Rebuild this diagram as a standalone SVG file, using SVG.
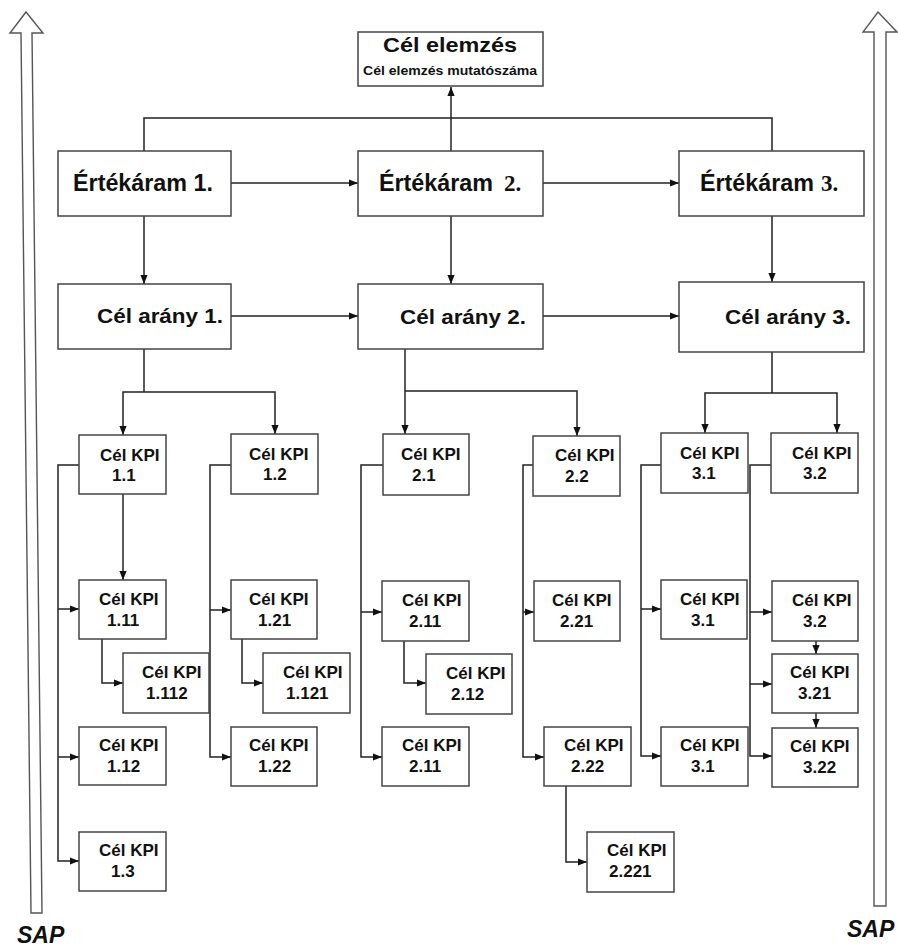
<svg xmlns="http://www.w3.org/2000/svg" width="898" height="949" viewBox="0 0 898 949">
<style>
.box{fill:#fff;stroke:#444;stroke-width:1.5}
.ln{fill:none;stroke:#222;stroke-width:1.5}
.ar{fill:none;stroke:#222;stroke-width:1.5;marker-end:url(#ah)}
.big{fill:#fff;stroke:#555;stroke-width:1.4}
.h1{font-family:"Liberation Sans",Arial,sans-serif;font-weight:bold;font-size:23px;fill:#111}
.h2{font-family:"Liberation Sans",Arial,sans-serif;font-weight:bold;font-size:21px;fill:#111}
.k{font-family:"Liberation Sans",Arial,sans-serif;font-weight:bold;font-size:17px;fill:#111}
.sub{font-family:"Liberation Sans",Arial,sans-serif;font-weight:bold;font-size:13px;fill:#111}
.num{font-family:"Liberation Serif","Times New Roman",serif;font-weight:bold;font-size:23px}
.sap{font-family:"Liberation Sans",Arial,sans-serif;font-weight:bold;font-style:italic;font-size:23px;fill:#111}
</style>
<defs>
<marker id="ah" viewBox="0 0 10 10" refX="10" refY="5" markerWidth="9" markerHeight="9" markerUnits="userSpaceOnUse" orient="auto">
<path d="M0,1 L10,5 L0,9 z" fill="#111"/>
</marker>
</defs>

<g id="sap-left">
<polygon class="big" points="26,12 43,33 32,33 42,913 31,913 21,33 10,33"/>
<text class="sap" x="17" y="943">SAP</text>
</g>
<g id="sap-right">
<polygon class="big" points="878,12 897,32 886,32 886,906 874,906 874,32 863,32"/>
<text class="sap" x="847" y="937">SAP</text>
</g>

<g id="connectors">
<path class="ln" d="M144,151 V118 H772 V151"/>
<path class="ar" d="M451,151 V87"/>
<path class="ar" d="M231,183 H358"/>
<path class="ar" d="M543,183 H679"/>
<path class="ar" d="M144,216 V284"/>
<path class="ar" d="M451,216 V284"/>
<path class="ar" d="M772,216 V282"/>
<path class="ar" d="M231,316 H358"/>
<path class="ar" d="M543,316 H679"/>
<path class="ln" d="M144,349 V392"/>
<path class="ar" d="M144,392 H123 V435"/>
<path class="ar" d="M144,392 H275 V434"/>
<path class="ar" d="M405,349 V434"/>
<path class="ar" d="M405,391 H577 V436"/>
<path class="ln" d="M772,352 V393"/>
<path class="ar" d="M772,393 H705 V433"/>
<path class="ar" d="M772,393 H837 V433"/>

<path class="ar" d="M79,465 H58 V861 H79"/>
<path class="ar" d="M58,609 H79"/>
<path class="ar" d="M58,757 H79"/>
<path class="ar" d="M123,494 V580"/>
<path class="ar" d="M102,639 V683 H123"/>
<path class="ar" d="M231,465 H210 V757 H231"/>
<path class="ar" d="M210,610 H231"/>
<path class="ar" d="M242,639 V683 H263"/>

<path class="ar" d="M383,465 H361 V757 H382"/>
<path class="ar" d="M361,612 H382"/>
<path class="ar" d="M404,641 V683 H426"/>
<path class="ar" d="M533,465 H523 V757 H544"/>
<path class="ar" d="M523,612 H534"/>
<path class="ar" d="M566,786 V862 H587"/>

<path class="ar" d="M661,465 H641 V756 H661"/>
<path class="ar" d="M641,609 H661"/>
<path class="ar" d="M771,465 H750 V756 H772"/>
<path class="ar" d="M750,612 H772"/>
<path class="ar" d="M750,684 H772"/>
<path class="ar" d="M816,641 V654"/>
<path class="ar" d="M816,713 V728"/>
</g>

<g id="cel-elemzes">
<rect class="box" x="358" y="32" width="185" height="54"/>
<text class="h2" x="383" y="52" textLength="134" lengthAdjust="spacingAndGlyphs">Cél elemzés</text>
<text class="sub" x="363" y="75" textLength="174" lengthAdjust="spacingAndGlyphs">Cél elemzés mutatószáma</text>
</g>

<g id="ertekaram-1">
<rect class="box" x="58" y="151" width="173" height="65"/>
<text class="h1" x="73" y="191" textLength="140" lengthAdjust="spacingAndGlyphs">Értékáram 1.</text>
</g>
<g id="ertekaram-2">
<rect class="box" x="358" y="151" width="185" height="65"/>
<text class="h1" x="379" y="191" textLength="114" lengthAdjust="spacingAndGlyphs">Értékáram</text>
<text class="h1 num" x="504" y="191">2.</text>
</g>
<g id="ertekaram-3">
<rect class="box" x="679" y="151" width="185" height="65"/>
<text class="h1" x="700" y="191" textLength="114" lengthAdjust="spacingAndGlyphs">Értékáram</text>
<text class="h1 num" x="821" y="191">3.</text>
</g>

<g id="cel-arany-1">
<rect class="box" x="58" y="284" width="173" height="65"/>
<text class="h2" x="97" y="323" textLength="126" lengthAdjust="spacingAndGlyphs">Cél arány 1.</text>
</g>
<g id="cel-arany-2">
<rect class="box" x="358" y="284" width="185" height="65"/>
<text class="h2" x="400" y="324" textLength="126" lengthAdjust="spacingAndGlyphs">Cél arány 2.</text>
</g>
<g id="cel-arany-3">
<rect class="box" x="679" y="282" width="185" height="70"/>
<text class="h2" x="725" y="324" textLength="126" lengthAdjust="spacingAndGlyphs">Cél arány 3.</text>
</g>

<g id="kpi-1-1"><rect class="box" x="79" y="435" width="87" height="59"/><text class="k" x="100" y="461">Cél KPI</text><text class="k" x="112" y="481">1.1</text></g>
<g id="kpi-1-2"><rect class="box" x="231" y="434" width="87" height="60"/><text class="k" x="249" y="460">Cél KPI</text><text class="k" x="263" y="480">1.2</text></g>
<g id="kpi-2-1"><rect class="box" x="383" y="434" width="86" height="61"/><text class="k" x="401" y="460">Cél KPI</text><text class="k" x="412" y="481">2.1</text></g>
<g id="kpi-2-2"><rect class="box" x="533" y="436" width="87" height="60"/><text class="k" x="555" y="461">Cél KPI</text><text class="k" x="565" y="482">2.2</text></g>
<g id="kpi-3-1"><rect class="box" x="661" y="433" width="87" height="60"/><text class="k" x="680" y="459">Cél KPI</text><text class="k" x="692" y="479">3.1</text></g>
<g id="kpi-3-2"><rect class="box" x="771" y="433" width="87" height="60"/><text class="k" x="792" y="459">Cél KPI</text><text class="k" x="803" y="479">3.2</text></g>

<g id="kpi-1-11"><rect class="box" x="79" y="580" width="87" height="59"/><text class="k" x="99" y="605">Cél KPI</text><text class="k" x="107" y="626">1.11</text></g>
<g id="kpi-1-112"><rect class="box" x="123" y="653" width="86" height="60"/><text class="k" x="142" y="678">Cél KPI</text><text class="k" x="146" y="699">1.112</text></g>
<g id="kpi-1-21"><rect class="box" x="231" y="580" width="86" height="59"/><text class="k" x="249" y="605">Cél KPI</text><text class="k" x="258" y="626">1.21</text></g>
<g id="kpi-1-121"><rect class="box" x="263" y="653" width="87" height="60"/><text class="k" x="283" y="678">Cél KPI</text><text class="k" x="286" y="699">1.121</text></g>
<g id="kpi-1-12"><rect class="box" x="79" y="727" width="87" height="58"/><text class="k" x="99" y="751">Cél KPI</text><text class="k" x="107" y="772">1.12</text></g>
<g id="kpi-1-22"><rect class="box" x="231" y="727" width="86" height="59"/><text class="k" x="249" y="751">Cél KPI</text><text class="k" x="258" y="772">1.22</text></g>
<g id="kpi-1-3"><rect class="box" x="79" y="832" width="87" height="59"/><text class="k" x="99" y="856">Cél KPI</text><text class="k" x="111" y="877">1.3</text></g>

<g id="kpi-2-11"><rect class="box" x="382" y="581" width="87" height="60"/><text class="k" x="402" y="606">Cél KPI</text><text class="k" x="409" y="627">2.11</text></g>
<g id="kpi-2-12"><rect class="box" x="426" y="654" width="86" height="60"/><text class="k" x="446" y="679">Cél KPI</text><text class="k" x="451" y="700">2.12</text></g>
<g id="kpi-2-11b"><rect class="box" x="382" y="727" width="87" height="59"/><text class="k" x="402" y="751">Cél KPI</text><text class="k" x="409" y="772">2.11</text></g>
<g id="kpi-2-21"><rect class="box" x="534" y="581" width="86" height="60"/><text class="k" x="552" y="606">Cél KPI</text><text class="k" x="560" y="627">2.21</text></g>
<g id="kpi-2-22"><rect class="box" x="544" y="727" width="87" height="59"/><text class="k" x="564" y="751">Cél KPI</text><text class="k" x="571" y="772">2.22</text></g>
<g id="kpi-2-221"><rect class="box" x="587" y="832" width="87" height="60"/><text class="k" x="607" y="856">Cél KPI</text><text class="k" x="609" y="877">2.221</text></g>

<g id="kpi-3-1m"><rect class="box" x="661" y="580" width="86" height="59"/><text class="k" x="680" y="605">Cél KPI</text><text class="k" x="691" y="626">3.1</text></g>
<g id="kpi-3-1b"><rect class="box" x="661" y="727" width="87" height="59"/><text class="k" x="680" y="751">Cél KPI</text><text class="k" x="691" y="772">3.1</text></g>
<g id="kpi-3-2m"><rect class="box" x="772" y="581" width="86" height="60"/><text class="k" x="792" y="606">Cél KPI</text><text class="k" x="803" y="627">3.2</text></g>
<g id="kpi-3-21"><rect class="box" x="772" y="654" width="86" height="59"/><text class="k" x="790" y="678">Cél KPI</text><text class="k" x="798" y="699">3.21</text></g>
<g id="kpi-3-22"><rect class="box" x="772" y="728" width="86" height="59"/><text class="k" x="790" y="752">Cél KPI</text><text class="k" x="803" y="773">3.22</text></g>
</svg>
